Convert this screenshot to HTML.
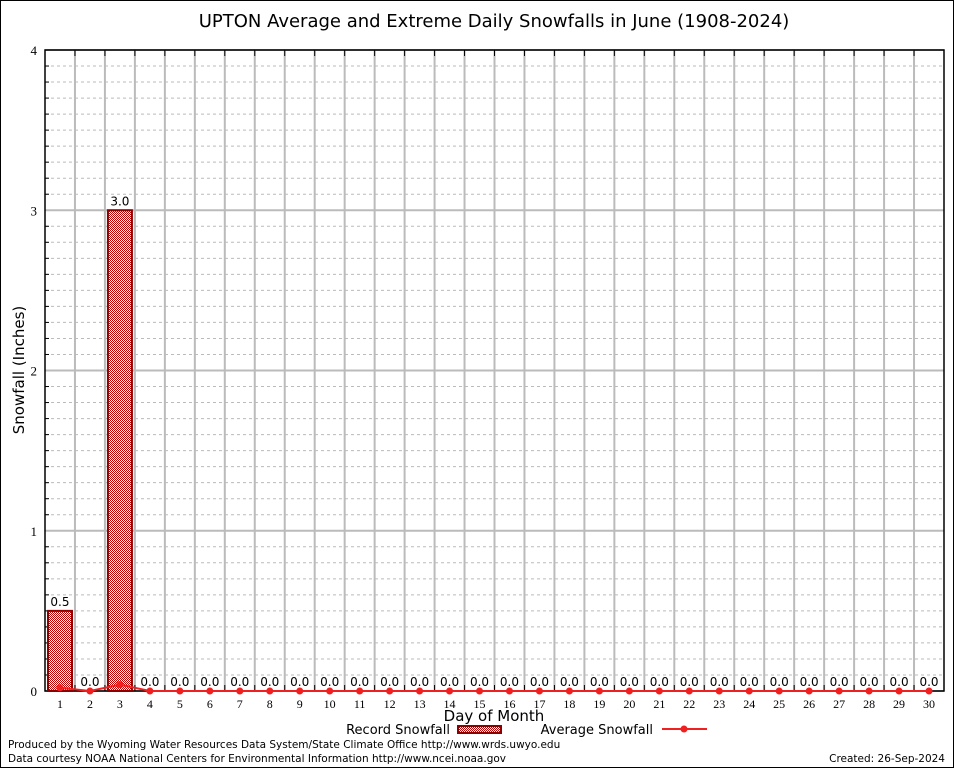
<!DOCTYPE html>
<html><head><meta charset="utf-8"><style>
body{margin:0;background:#fff}
svg{display:block;font-family:"DejaVu Sans","Liberation Sans",sans-serif}
</style></head><body>
<svg id="c" width="954" height="768" viewBox="0 0 954 768">
<defs><pattern id="chk" width="2" height="2" patternUnits="userSpaceOnUse"><rect width="2" height="2" fill="#fff"/><rect width="1" height="1" fill="#c00000"/><rect x="1" y="1" width="1" height="1" fill="#c00000"/></pattern></defs>
<rect x="0.5" y="0.5" width="953" height="767" fill="#fff" stroke="#000"/>
<text x="494" y="27" font-size="18" text-anchor="middle">UPTON Average and Extreme Daily Snowfalls in June (1908-2024)</text>
<g id="grid"></g><g id="marks"></g>
<text x="24" y="370" font-size="15" text-anchor="middle" transform="rotate(-90 24 370)">Snowfall (Inches)</text>
<text x="494" y="721" font-size="15" text-anchor="middle">Day of Month</text>
<g>
<text x="450" y="734" font-size="13" text-anchor="end">Record Snowfall</text>
<rect x="458" y="726" width="43" height="7" fill="url(#chk)" stroke="#8b0000" stroke-width="2"/>
<text x="653" y="734" font-size="13" text-anchor="end">Average Snowfall</text>
<line x1="662" y1="729" x2="707" y2="729" stroke="#f02020" stroke-width="2"/>
<circle cx="684" cy="729" r="3.5" fill="#f02020"/>
</g>
<text x="8" y="748" font-size="10.5">Produced by the Wyoming Water Resources Data System/State Climate Office http://www.wrds.uwyo.edu</text>
<text x="8" y="762" font-size="10.5">Data courtesy NOAA National Centers for Environmental Information http://www.ncei.noaa.gov</text>
<text x="945" y="762" font-size="10.5" text-anchor="end">Created: 26-Sep-2024</text>
</svg>
<script>
const days=[1,2,3,4,5,6,7,8,9,10,11,12,13,14,15,16,17,18,19,20,21,22,23,24,25,26,27,28,29,30];
const recordSnow=[0.5,0,3.0,0,0,0,0,0,0,0,0,0,0,0,0,0,0,0,0,0,0,0,0,0,0,0,0,0,0,0];
const avgSnow=[0.02,0,0.04,0,0,0,0,0,0,0,0,0,0,0,0,0,0,0,0,0,0,0,0,0,0,0,0,0,0,0];
const yTicks=[0,1,2,3,4];
const NS='http://www.w3.org/2000/svg';
const L=45,R=944,T=50,B=691,yMax=4;
const bw=(R-L)/days.length;
const xC=i=>L+bw*(i+0.5);
const y=v=>B-(v/yMax)*(B-T);
function mk(p,t,a){const e=document.createElementNS(NS,t);for(const k in a)e.setAttribute(k,a[k]);p.appendChild(e);return e;}
const g=document.getElementById('grid'),m=document.getElementById('marks');
for(let v=0;v<yMax;v+=0.1){const r=Math.round(v*10)/10;if(r%1===0)continue;
 const l=mk(g,'line',{x1:L,x2:R,y1:y(r),y2:y(r),stroke:'#bbb','stroke-dasharray':'3,3'});
 
 
 const t=mk(g,'line',{x1:L,x2:L+4,y1:y(r),y2:y(r),stroke:'#000'});
 
 }
yTicks.forEach(v=>{const l=mk(g,'line',{x1:L,x2:R,y1:y(v),y2:y(v),stroke:'#bbb','stroke-width':2});
 
 
 const t=mk(g,'text',{x:L-8,y:y(v)+5,'font-size':13,'text-anchor':'end','font-family':'Liberation Serif, serif'});t.textContent=v;
 
 });
for(let i=1;i<days.length;i++){const x=L+bw*i;
 const l=mk(g,'line',{x1:x,x2:x,y1:T,y2:B,stroke:'#bbb','stroke-width':2});
 
 
 const t=mk(g,'line',{x1:x,x2:x,y1:T,y2:T+6,stroke:'#000'});
 
 
 const t2=mk(g,'line',{x1:x,x2:x,y1:B,y2:B-6,stroke:'#000'});
 
 }
const fr=mk(g,'rect',{x:L,y:T,width:R-L,height:B-T,fill:'none',stroke:'#000','stroke-width':1.5});


days.forEach((d,i)=>{const t=mk(g,'text',{x:xC(i),y:B+17,'font-size':12,'text-anchor':'middle','font-family':'Liberation Serif, serif'});t.textContent=d;
 
 
 const v=recordSnow[i];
 if(v>0){const b=mk(m,'rect',{x:xC(i)-12,y:y(v),width:24,height:B-y(v),fill:'url(#chk)',stroke:'#8b0000','stroke-width':2});
  
  }
 const lb=mk(m,'text',{x:xC(i),y:y(v)-5,'font-size':12,'text-anchor':'middle'});lb.textContent=v.toFixed(1);
 
 });
const pts=avgSnow.map((v,i)=>xC(i)+','+y(v)).join(' ');
const pl=mk(m,'polyline',{points:pts,fill:'none',stroke:'#f02020','stroke-width':2});


avgSnow.forEach((v,i)=>{const c=mk(m,'circle',{cx:xC(i),cy:y(v),r:3.5,fill:'#f02020'});
 
 });
</script>
</body></html>
